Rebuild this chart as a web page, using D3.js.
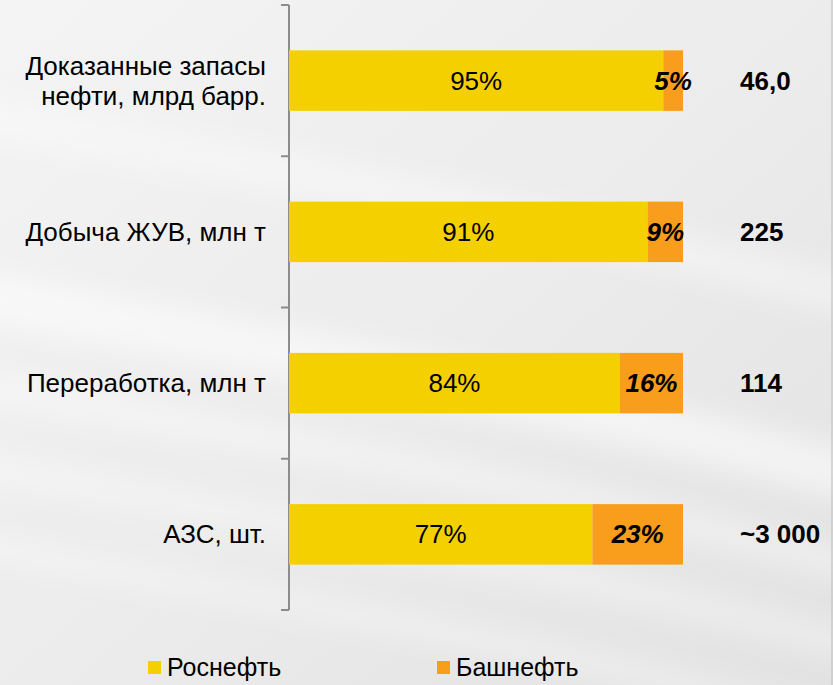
<!DOCTYPE html>
<html><head><meta charset="utf-8">
<script src="https://cdn.jsdelivr.net/npm/d3@7"></script>
<style>html,body{margin:0;padding:0;overflow:hidden;background:#eee}</style>
</head><body>
<script>
const categories = [["Доказанные запасы","нефти, млрд барр."],["Добыча ЖУВ, млн т"],["Переработка, млн т"],["АЗС, шт."]];
const rosneft = [95, 91, 84, 77];
const bashneft = [5, 9, 16, 23];
const totals = ["46,0", "225", "114", "~3 000"];
const seriesNames = ["Роснефть", "Башнефть"];
const colors = ["#F5D000", "#F99D1C"];

const W = 833, H = 685;
const FS = 26;
const svg = d3.select("body").append("svg").attr("width", W).attr("height", H)
  .style("font-family", "'Liberation Sans', Arial, sans-serif");

// background
const defs = svg.append("defs");
const g1 = defs.append("linearGradient").attr("id","bg").attr("x1","0").attr("y1","0").attr("x2","1").attr("y2","1");
g1.append("stop").attr("offset","0").attr("stop-color","#f4f4f4");
g1.append("stop").attr("offset","0.5").attr("stop-color","#ececec");
g1.append("stop").attr("offset","1").attr("stop-color","#e2e2e2");
defs.append("filter").attr("id","blur").append("feGaussianBlur").attr("stdDeviation",12);
svg.append("rect").attr("width",W).attr("height",H).attr("fill","url(#bg)");
const sw = svg.append("g").attr("fill","none").attr("stroke","#ffffff").attr("filter","url(#blur)");
[[0.5,50,330],[0.35,30,420],[0.3,30,500],[0.3,25,580],[0.35,40,150]].forEach(([o,w,yy])=>{
  sw.append("path").attr("stroke-opacity",o).attr("stroke-width",w)
    .attr("d",`M-50,${yy-40} C250,${yy+20} 550,${yy+60} 900,${yy+160}`);
});
svg.append("line").attr("x1",832).attr("x2",832).attr("y1",0).attr("y2",H).attr("stroke","#bbb");

const x = d3.scaleLinear().domain([0,100]).range([289,683]);
const y = d3.scaleBand().domain(d3.range(categories.length)).range([5,610]).paddingInner(0.6).paddingOuter(0.3);

// axis
const axisG = svg.append("g").attr("stroke","#8c8c8c").attr("stroke-width",2);
axisG.append("line").attr("x1",289).attr("x2",289).attr("y1",5).attr("y2",610);
const tickYs = d3.range(categories.length+1).map(i => 5 + i*(605/categories.length));
axisG.selectAll("line.t").data(tickYs).join("line").attr("class","t")
  .attr("x1",281).attr("x2",289).attr("y1",d=>d).attr("y2",d=>d);

const rows = svg.append("g").selectAll("g").data(categories).join("g");
rows.each(function(cat,i){
  const g = d3.select(this);
  const cy = y(i) + y.bandwidth()/2;
  g.append("rect").attr("x",x(0)).attr("y",y(i)).attr("width",x(rosneft[i])-x(0)).attr("height",y.bandwidth()).attr("fill",colors[0]);
  g.append("rect").attr("x",x(rosneft[i])).attr("y",y(i)).attr("width",x(rosneft[i]+bashneft[i])-x(rosneft[i])).attr("height",y.bandwidth()).attr("fill",colors[1]);
  g.append("text").attr("x",(x(0)+x(rosneft[i]))/2).attr("y",cy).attr("dy","0.35em")
    .attr("text-anchor","middle").attr("font-size",FS).text(rosneft[i]+"%");
  g.append("text").attr("x",(x(rosneft[i])+x(rosneft[i]+bashneft[i]))/2).attr("y",cy).attr("dy","0.35em")
    .attr("text-anchor","middle").attr("font-size",FS).attr("font-weight","bold").attr("font-style","italic").text(bashneft[i]+"%");
  g.append("text").attr("x",740).attr("y",cy).attr("dy","0.35em").attr("font-size",FS).attr("font-weight","bold").text(totals[i]);
  const t = g.append("text").attr("text-anchor","end").attr("font-size",FS);
  const n = cat.length;
  cat.forEach((line,k)=>{
    t.append("tspan").attr("x",266).attr("y",cy + (k-(n-1)/2)*30).attr("dy","0.35em").text(line);
  });
});

// legend
const legX = [148, 437];
const leg = svg.append("g").selectAll("g").data(seriesNames).join("g");
leg.append("rect").attr("x",(d,i)=>legX[i]).attr("y",661).attr("width",13).attr("height",13).attr("fill",(d,i)=>colors[i]);
leg.append("text").attr("x",(d,i)=>legX[i]+19).attr("y",667).attr("dy","0.35em").attr("font-size",25).text(d=>d);
</script>
</body></html>
